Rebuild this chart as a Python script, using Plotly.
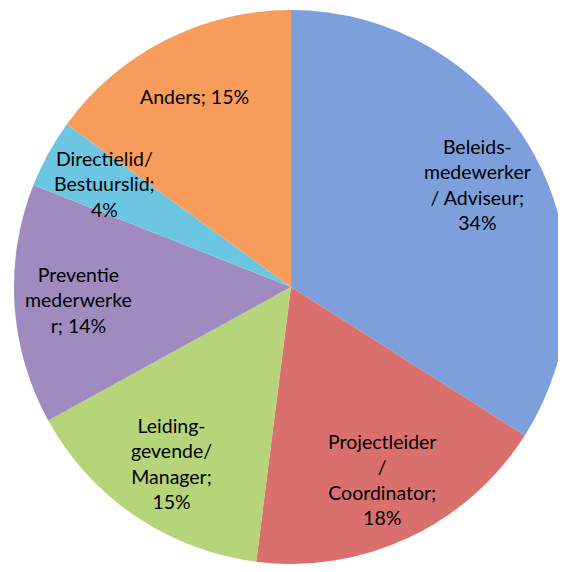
import math
import plotly.graph_objects as go

categories = ["Beleids-medewerker / Adviseur", "Projectleider / Coordinator",
              "Leiding-gevende/ Manager", "Preventie mederwerker",
              "Directielid/ Bestuurslid", "Anders"]
label_text = ["Beleids-<br>medewerker<br>/ Adviseur;", "Projectleider<br>/<br>Coordinator;",
              "Leiding-<br>gevende/<br>Manager;", "Preventie<br>mederwerke<br>r;",
              "Directielid/<br>Bestuurslid;", "Anders;"]
percent_sep = ["<br>", "<br>", "<br>", " ", "<br>", " "]
values = [34, 18, 15, 14, 4, 15]
colors = ["#7d9fdc", "#d9706e", "#b6d47a", "#a08bc0", "#6cc6e2", "#f79c5a"]

W, H = 566, 572
dom_x = [0.0088, 0.991]
dom_y = [0.028, 0.9965]
label_radius_frac = 0.77

texts = [f"{t}{s}{v}%" for t, s, v in zip(label_text, percent_sep, values)]

fig = go.Figure(go.Pie(
    labels=categories,
    values=values,
    textinfo="none",
    marker=dict(colors=colors, line=dict(width=0)),
    sort=False,
    direction="clockwise",
    rotation=0,
    showlegend=False,
    hoverinfo="label+percent",
    domain=dict(x=dom_x, y=dom_y),
))

# label placement along each slice's mid-angle (derived from the values)
cx = (dom_x[0] + dom_x[1]) / 2
cy = (dom_y[0] + dom_y[1]) / 2
r_px = min((dom_x[1] - dom_x[0]) * W, (dom_y[1] - dom_y[0]) * H) / 2
total = sum(values)
cum = 0
for v, t in zip(values, texts):
    mid = (cum + v / 2) / total * 2 * math.pi
    cum += v
    d = label_radius_frac * r_px
    x = cx + d * math.sin(mid) / W
    y = cy + d * math.cos(mid) / H
    fig.add_annotation(x=x, y=y, xref="paper", yref="paper", text=t,
                       showarrow=False, xanchor="center", yanchor="middle",
                       align="center",
                       font=dict(family="Lato", size=19.5, color="black"))

fig.update_layout(
    width=W, height=H,
    margin=dict(l=0, r=0, t=0, b=0),
    paper_bgcolor="white",
    font=dict(family="Lato", color="black"),
)

fig.write_html("out.html")
